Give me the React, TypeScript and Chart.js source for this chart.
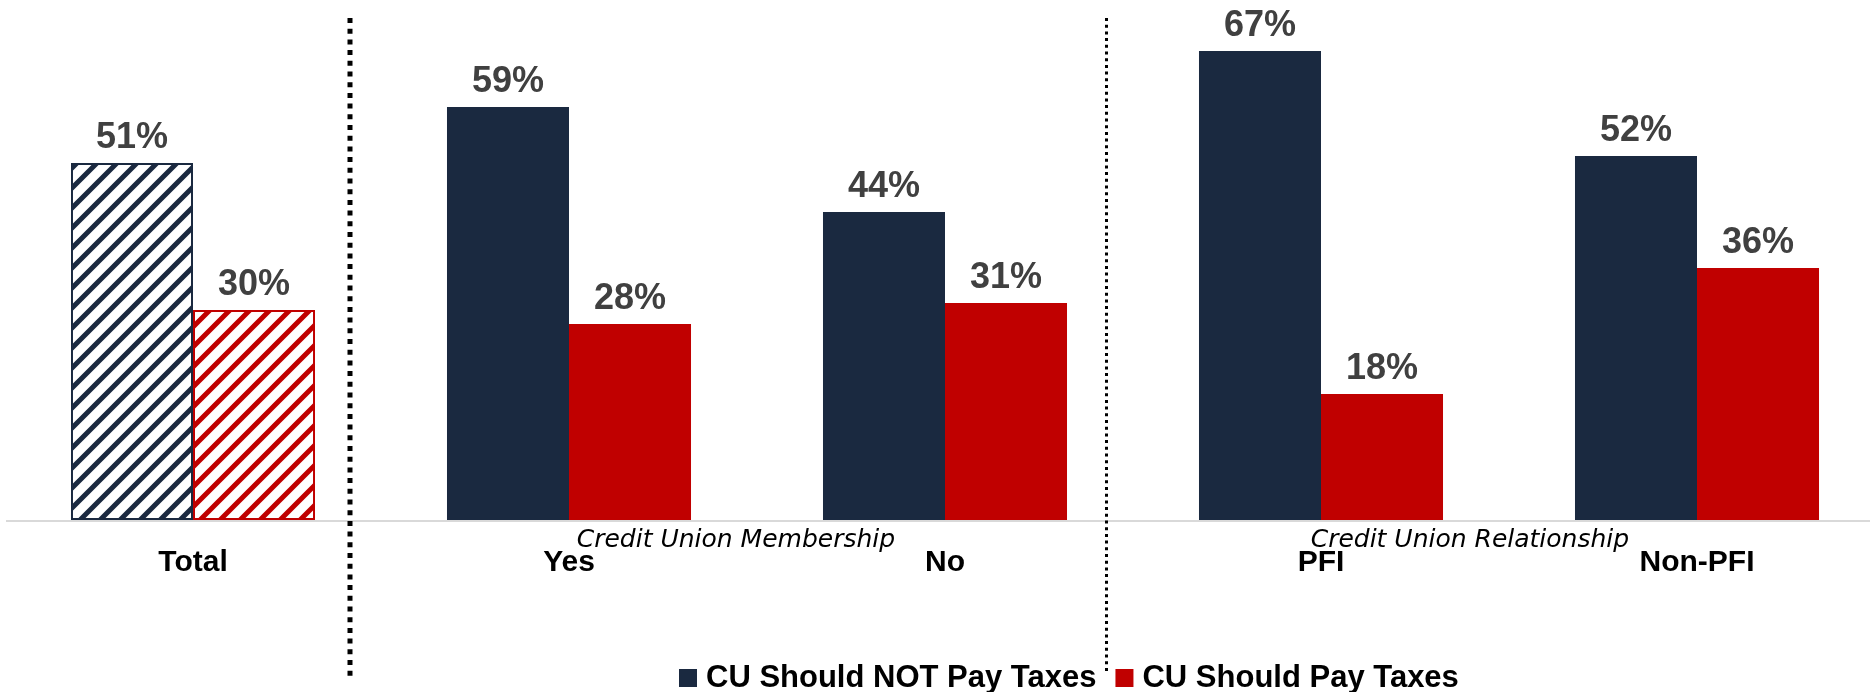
import React, { useEffect, useRef } from 'react';
import { Chart, registerables } from 'chart.js';

Chart.register(...registerables);

// ---- data ----
const categories = ['Total', 'Yes', 'No', 'PFI', 'Non-PFI'];
const seriesLabels = ['CU Should NOT Pay Taxes', 'CU Should Pay Taxes'];
const notPayValues = [51, 59, 44, 67, 52];
const payValues = [30, 28, 31, 18, 36];
const groupTitles = ['Credit Union Membership', 'Credit Union Relationship'];

// ---- style / layout constants ----
const NAVY = '#1a2940';
const RED = '#c00000';
const W = 1875;
const H = 692;
const X_MIN = -0.5133;
const X_MAX = 4.4734;
const GROUP_TITLE_AT = [1.444, 3.396];
const DIVIDER_AT = [0.4176, 2.4274];
const BOLD = "'Liberation Sans', Arial, sans-serif";
const seriesValues = [notPayValues, payValues];

function makeHatch(ctx: CanvasRenderingContext2D, color: string) {
  const c = document.createElement('canvas');
  c.width = 20;
  c.height = 20;
  const g = c.getContext('2d')!;
  g.fillStyle = '#ffffff';
  g.fillRect(0, 0, 20, 20);
  g.strokeStyle = color;
  g.lineWidth = 5;
  g.beginPath();
  g.moveTo(-5, 25);
  g.lineTo(25, -5);
  g.moveTo(-15, 15);
  g.lineTo(15, -15);
  g.moveTo(5, 35);
  g.lineTo(35, 5);
  g.stroke();
  return ctx.createPattern(c, 'repeat')!;
}

const overlayPlugin = {
  id: 'overlay',
  beforeDatasetsDraw(chart: any) {
    const { ctx } = chart;
    const y0 = chart.scales.y.getPixelForValue(0);
    ctx.save();
    ctx.strokeStyle = '#d9d9d9';
    ctx.lineWidth = 2;
    ctx.beginPath();
    ctx.moveTo(6, y0 + 1);
    ctx.lineTo(1870, y0 + 1);
    ctx.stroke();
    ctx.restore();
  },
  afterDatasetsDraw(chart: any) {
    const { ctx } = chart;
    const xs = chart.scales.x;
    ctx.save();
    // value labels
    ctx.font = `bold 36px ${BOLD}`;
    ctx.fillStyle = '#404040';
    ctx.textAlign = 'center';
    ctx.textBaseline = 'alphabetic';
    seriesValues.forEach((vals, di) => {
      chart.getDatasetMeta(di).data.forEach((bar: any, i: number) => {
        ctx.fillText(`${vals[i]}%`, bar.x, bar.y - 15);
      });
    });
    // dividers
    ctx.strokeStyle = '#000000';
    ctx.lineCap = 'butt';
    const d1 = Math.round(xs.getPixelForValue(DIVIDER_AT[0]));
    ctx.lineWidth = 5;
    ctx.setLineDash([5, 5.7]);
    ctx.beginPath();
    ctx.moveTo(d1, 18);
    ctx.lineTo(d1, 677);
    ctx.stroke();
    const d2 = Math.round(xs.getPixelForValue(DIVIDER_AT[1])) + 0.5;
    ctx.lineWidth = 3;
    ctx.setLineDash([3, 3.7]);
    ctx.beginPath();
    ctx.moveTo(d2, 18);
    ctx.lineTo(d2, 674);
    ctx.stroke();
    ctx.setLineDash([]);
    // group titles
    ctx.font = "italic 25px 'DejaVu Sans', sans-serif";
    ctx.fillStyle = '#000000';
    groupTitles.forEach((t, i) => {
      ctx.fillText(t, xs.getPixelForValue(GROUP_TITLE_AT[i]), 547);
    });
    // legend
    ctx.font = `bold 31px ${BOLD}`;
    ctx.textAlign = 'left';
    const box = 18;
    const gap = 9;
    const itemGap = 19;
    const widths = seriesLabels.map((l) => ctx.measureText(l).width);
    const total = widths.reduce((a, w) => a + box + gap + w, 0) + itemGap * (seriesLabels.length - 1);
    let lx = Math.round(W * 0.5702 - total / 2);
    const colors = [NAVY, RED];
    seriesLabels.forEach((l, i) => {
      ctx.fillStyle = colors[i];
      ctx.fillRect(lx, 669, box, box);
      ctx.fillStyle = '#000000';
      ctx.fillText(l, lx + box + gap, 687);
      lx += box + gap + widths[i] + itemGap;
    });
    ctx.restore();
  },
};

export default function App() {
  const ref = useRef<HTMLCanvasElement>(null);

  useEffect(() => {
    const canvas = ref.current!;
    const ctx = canvas.getContext('2d')!;
    const navyHatch = makeHatch(ctx, NAVY);
    const redHatch = makeHatch(ctx, RED);

    const chart = new Chart(ctx, {
      type: 'bar',
      data: {
        datasets: [
          {
            label: seriesLabels[0],
            data: notPayValues.map((v, i) => ({ x: i, y: v })),
            backgroundColor: categories.map((_, i) => (i === 0 ? navyHatch : NAVY)),
            borderColor: NAVY,
            borderWidth: categories.map((_, i) => (i === 0 ? 2 : 0)),
            borderSkipped: false,
          },
          {
            label: seriesLabels[1],
            data: payValues.map((v, i) => ({ x: i, y: v })),
            backgroundColor: categories.map((_, i) => (i === 0 ? redHatch : RED)),
            borderColor: RED,
            borderWidth: categories.map((_, i) => (i === 0 ? 2 : 0)),
            borderSkipped: false,
          },
        ] as any,
      },
      options: {
        responsive: false,
        animation: false,
        devicePixelRatio: 1,
        events: [],
        layout: { padding: { top: 30, bottom: 0, left: 0, right: 0 } },
        datasets: {
          bar: { categoryPercentage: 0.649, barPercentage: 1 },
        } as any,
        plugins: {
          legend: { display: false },
          tooltip: { enabled: false },
        },
        scales: {
          x: {
            type: 'linear',
            offset: false,
            min: X_MIN,
            max: X_MAX,
            grid: { display: false, drawTicks: false, offset: false },
            border: { display: false },
            afterBuildTicks: (s: any) => {
              s.ticks = categories.map((_, i) => ({ value: i }));
            },
            afterFit: (s: any) => {
              s.height = 172;
            },
            ticks: {
              autoSkip: false,
              maxRotation: 0,
              padding: 25,
              color: '#000000',
              font: { family: BOLD, size: 30, weight: 'bold' },
              callback: (v: any) => categories[v] ?? '',
            },
          },
          y: {
            display: false,
            min: 0,
            max: 70,
          },
        },
      } as any,
      plugins: [overlayPlugin],
    });
    return () => chart.destroy();
  }, []);

  return (
    <div style={{ position: 'fixed', left: 0, top: 0, width: W, height: H, background: '#ffffff' }}>
      <canvas ref={ref} width={W} height={H} style={{ width: W, height: H, display: 'block' }} />
    </div>
  );
}
